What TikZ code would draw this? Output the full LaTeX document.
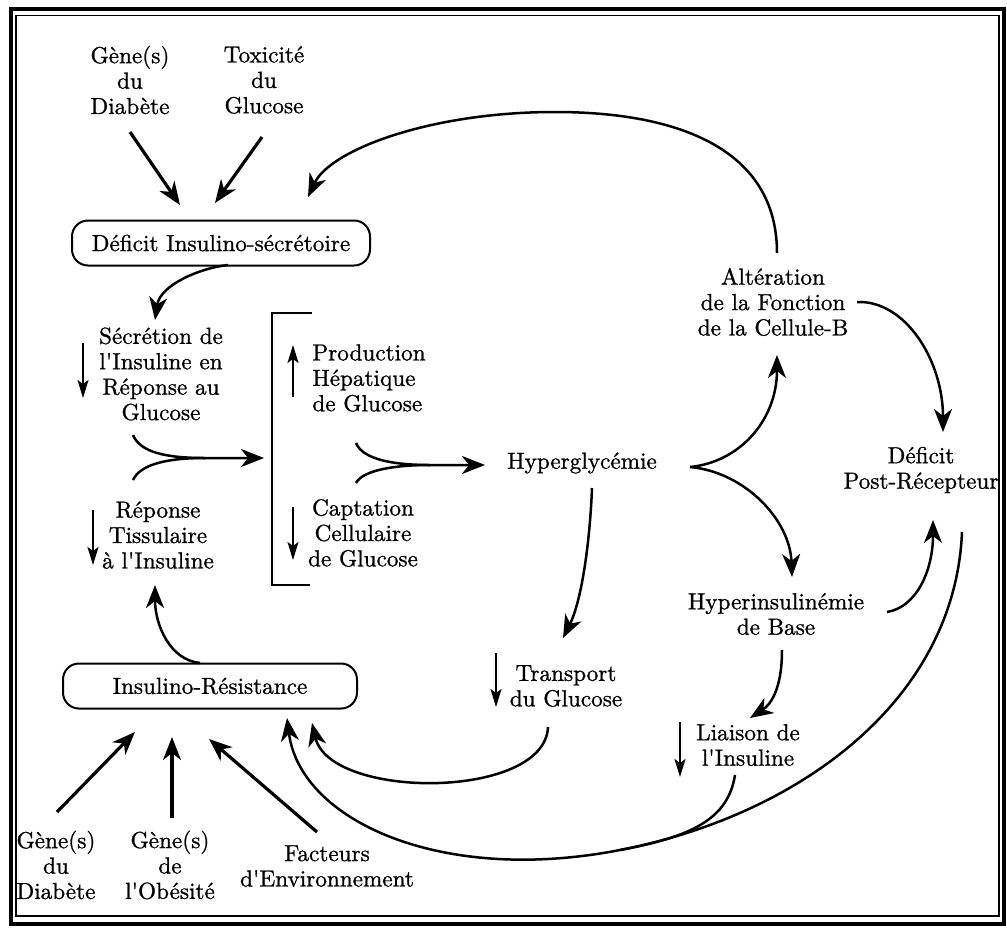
\documentclass[tikz,border=0pt]{standalone}
\usepackage{fontspec}
\newfontfamily\diagfont{lmroman10-regular.otf}[FakeBold=1.0]
\usetikzlibrary{arrows.meta}
\newcommand{\apo}{\textquotesingle}
\begin{document}
\begin{tikzpicture}[x=0.5pt,y=-0.5pt,
  every node/.style={font=\diagfont\fontsize{11.6}{12.7}\selectfont, inner sep=1pt, align=center},
  box/.style={draw, line width=1pt, rounded corners=8pt, minimum width=149pt, minimum height=22.5pt},
  conn/.style={line width=1.25pt, -{Stealth[length=11.5pt,width=9pt,inset=3.5pt]}},
  plain/.style={line width=1.25pt},
  strong/.style={line width=1.6pt, -{Stealth[length=11.5pt,width=9pt,inset=3.5pt]}},
  tick/.style={line width=1pt, -{Stealth[length=9pt,width=5.5pt,inset=2pt]}}
]
\useasboundingbox (0,0) rectangle (1007,927);
% frame
\draw[line width=2pt] (10.5,9) rectangle (1004,924);
\draw[line width=0.6pt] (16,15.5) rectangle (999,916);

% nodes
\node (gd1) at (130,80) {Gène(s)\\du\\Diabète};
\node (tox) at (264,80) {Toxicité\\du\\Glucose};
\node[box] (dis) at (221,243) {Déficit Insulino-sécrétoire};
\node (sec) at (161,374) {Sécrétion de\\l\apo Insuline en\\Réponse au\\Glucose};
\node (rep) at (158,535) {Réponse\\Tissulaire\\à l\apo Insuline};
\node[align=left] (prod) at (369,378) {Production\\Hépatique\\de Glucose};
\node (capt) at (363,533) {Captation\\Cellulaire\\de Glucose};
\node (hyper) at (582,463) {Hyperglycémie};
\node (alt) at (773,302) {Altération\\de la Fonction\\de la Cellule-B};
\node (post) at (921,470) {Déficit\\Post-Récepteur};
\node (hins) at (776,614) {Hyperinsulinémie\\de Base};
\node (trans) at (566,686) {Transport\\du Glucose};
\node (liai) at (748,745) {Liaison de\\l\apo Insuline};
\node[box, minimum width=147pt] (ires) at (210,686) {Insulino-Résistance};
\node (gd2) at (56,865) {Gène(s)\\du\\Diabète};
\node (gob) at (170,865) {Gène(s)\\de\\l\apo Obésité};
\node (env) at (327,866) {Facteurs\\d\apo Environnement};

% bracket
\draw[line width=1pt] (312,313) -- (272,313) -- (272,585) -- (310,585);
\coordinate (brk) at (272,458);

% small up/down arrows
\draw[tick] (83,343) -- (83,398);
\draw[tick] (93,510) -- (93,565);
\draw[tick] (293,397) -- (293,345);
\draw[tick] (293,507) -- (293,560);
\draw[tick] (496,653) -- (496,707);
\draw[tick] (680,722) -- (680,777);

% connectors
\draw[strong] ([shift={(0,52)}]gd1.center) -- ([shift={(-41,-38)}]dis.center);
\draw[strong] ([shift={(-2,57)}]tox.center) -- ([shift={(-6,-40)}]dis.center);
\draw[conn] ([shift={(4,-49)}]alt.center) .. controls (777,150) and (680,112) .. (555,112) .. controls (430,112) and (330,150) .. ([shift={(87,-46)}]dis.center);
\draw[conn] ([shift={(7,22)}]dis.center) .. controls (200,268) and (160,285) .. ([shift={(-6,-54)}]sec.center);

\draw[plain] ([shift={(-28,61)}]sec.center) .. controls (140,452) and (165,458) .. (205,458);
\draw[conn] ([shift={(-25,-55)}]rep.center) .. controls (140,465) and (165,458) .. (205,458) -- ([shift={(-8,0)}]brk);

\draw[plain] ([shift={(-13,65)}]prod.center) .. controls (363,460) and (395,465) .. (430,465);
\draw[conn] ([shift={(-7,-50)}]capt.center) .. controls (363,470) and (395,465) .. (430,465) -- ([shift={(-97,2)}]hyper.center);

\draw[conn] ([shift={(10,25)}]hyper.center) .. controls (590,540) and (582,600) .. ([shift={(-3,-48)}]trans.center);
\draw[conn] ([shift={(108,4)}]hyper.center) .. controls (740,462) and (777,420) .. ([shift={(4,53)}]alt.center);
\draw[conn] ([shift={(108,4)}]hyper.center) .. controls (745,472) and (790,520) .. ([shift={(16,-37)}]hins.center);
\draw[conn] ([shift={(84,0)}]alt.center) .. controls (905,300) and (943,360) .. ([shift={(22,-38)}]post.center);
\draw[conn] ([shift={(111,-2)}]hins.center) .. controls (917,607) and (933,570) .. ([shift={(12,50)}]post.center);
\draw[conn] ([shift={(6,36)}]hins.center) .. controls (782,690) and (770,705) .. ([shift={(2,-27)}]liai.center);

\draw[conn] ([shift={(41,62)}]post.center) .. controls (955,700) and (800,815) .. (620,850) .. controls (440,885) and (300,820) .. ([shift={(77,32)}]ires.center);
\draw[plain] ([shift={(-13,30)}]liai.center) .. controls (728,820) and (690,837) .. (620,850);
\draw[conn] ([shift={(-18,41)}]trans.center) .. controls (545,800) and (330,800) .. ([shift={(102,37)}]ires.center);
\draw[conn] ([shift={(-10,-23)}]ires.center) .. controls (170,660) and (155,625) .. ([shift={(-3,50)}]rep.center);

\draw[strong] ([shift={(1,-53)}]gd2.center) -- ([shift={(-75,46)}]ires.center);
\draw[strong] ([shift={(2,-47)}]gob.center) -- ([shift={(-38,51)}]ires.center);
\draw[strong] ([shift={(-10,-34)}]env.center) -- ([shift={(-1,53)}]ires.center);
\end{tikzpicture}
\end{document}
